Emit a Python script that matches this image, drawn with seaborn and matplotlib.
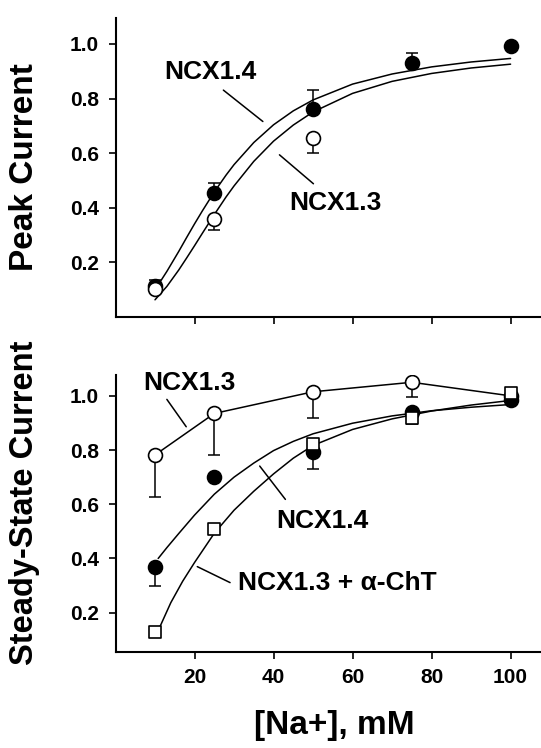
import numpy as np
import seaborn as sns
from matplotlib import pyplot as plt

# Na+ concentrations (mM)
conc = [10, 25, 50, 75, 100]

# Peak current (top panel)
peak_14 = [0.115, 0.454, 0.762, 0.929, 0.992]
peak_14_err = [0.022, 0.036, 0.069, 0.037, 0.0]
peak_13_conc = [10, 25, 50]
peak_13 = [0.104, 0.36, 0.655]
peak_13_err = [0.0, 0.04, 0.053]

# fitted curves
fit14_x = [11, 13, 16, 18, 20, 22, 25, 28, 30, 35, 40, 45, 50, 60, 70, 80, 90, 100]
fit14_y = [0.122, 0.167, 0.240, 0.291, 0.341, 0.389, 0.458, 0.520, 0.558, 0.639,
           0.704, 0.755, 0.795, 0.853, 0.890, 0.916, 0.934, 0.947]
fit13_x = [10, 13, 16, 18, 20, 22, 25, 28, 30, 35, 40, 45, 50, 60, 70, 80, 90, 100]
fit13_y = [0.063, 0.112, 0.172, 0.216, 0.261, 0.307, 0.375, 0.440, 0.480, 0.570,
           0.644, 0.703, 0.751, 0.819, 0.863, 0.892, 0.912, 0.926]

# Steady-state current (bottom panel)
ss_13 = [0.782, 0.935, 1.015, 1.05, 1.0]
ss_13_err = [0.154, 0.154, 0.098, 0.053, 0.0]
ss_14 = [0.37, 0.702, 0.794, 0.94, 0.985]
ss_14_err = [0.07, 0.0, 0.065, 0.0, 0.0]
ss_cht = [0.13, 0.509, 0.822, 0.92, 1.012]
ss_cht_err = [0.0, 0.0, 0.0, 0.025, 0.0]

# fitted curves
ssfit14_x = [10.8, 13, 16, 20, 25, 30, 35, 40, 45, 50, 60, 70, 80, 90, 100]
ssfit14_y = [0.40, 0.44, 0.492, 0.56, 0.637, 0.70, 0.752, 0.798, 0.832, 0.86,
             0.899, 0.926, 0.945, 0.958, 0.968]
ssfitcht_x = [11.3, 14, 17, 20, 25, 30, 35, 40, 45, 50, 60, 70, 80, 90, 100]
ssfitcht_y = [0.15, 0.237, 0.316, 0.385, 0.493, 0.578, 0.648, 0.712, 0.77, 0.817,
              0.876, 0.915, 0.944, 0.966, 0.983]

x_ticks = [20, 40, 60, 80, 100]
y_ticks = [0.2, 0.4, 0.6, 0.8, 1.0]

sns.set_style("ticks")
plt.rcParams['font.family'] = ['Liberation Sans', 'DejaVu Sans']
plt.rcParams['font.weight'] = 'bold'
plt.rcParams['axes.labelweight'] = 'bold'
for key in ('text.color', 'axes.labelcolor', 'xtick.color', 'ytick.color', 'axes.edgecolor'):
    plt.rcParams[key] = 'black'

fig = plt.figure(figsize=(5.41, 7.48), dpi=100)
ax1 = fig.add_axes([0.2135, 0.5762, 0.7865, 0.3997])
ax2 = fig.add_axes([0.2135, 0.1287, 0.7865, 0.370])

line_kw = dict(color='black', linewidth=1.1, estimator=None, sort=False)
err_kw = dict(fmt='none', ecolor='black', elinewidth=1.1, capsize=4.5, capthick=1.1)


def points(ax, x, y, face, marker='o', size=100, z=4):
    sns.scatterplot(x=x, y=y, ax=ax, marker=marker, s=size, color=face,
                    edgecolor='black', linewidth=1.2, zorder=z, legend=False)


# top panel
sns.lineplot(x=fit14_x, y=fit14_y, ax=ax1, **line_kw)
sns.lineplot(x=fit13_x, y=fit13_y, ax=ax1, **line_kw)
ax1.errorbar(conc, peak_14, yerr=[np.zeros(5), peak_14_err], zorder=3, **err_kw)
ax1.errorbar(peak_13_conc, peak_13, yerr=[peak_13_err, np.zeros(3)], zorder=3, **err_kw)
points(ax1, conc, peak_14, 'black', z=4)
points(ax1, peak_13_conc, peak_13, 'white', z=5)

ax1.text(24.1, 0.897, 'NCX1.4', ha='center', va='center', fontsize=19)
ax1.plot([27.3, 37.3], [0.831, 0.716], color='black', lw=1.1)
ax1.text(55.7, 0.418, 'NCX1.3', ha='center', va='center', fontsize=19)
ax1.plot([41.5, 50.1], [0.594, 0.488], color='black', lw=1.1)

ax1.set_ylabel('Peak Current', fontsize=24, va='center')
ax1.yaxis.set_label_coords(-0.215, 0.5)
ax1.set_ylim(0, 1.095)
ax1.tick_params(labelbottom=False)

# bottom panel
sns.lineplot(x=conc, y=ss_13, ax=ax2, **line_kw)
sns.lineplot(x=ssfit14_x, y=ssfit14_y, ax=ax2, **line_kw)
sns.lineplot(x=ssfitcht_x, y=ssfitcht_y, ax=ax2, **line_kw)
ax2.errorbar(conc, ss_13, yerr=[ss_13_err, np.zeros(5)], zorder=3, **err_kw)
ax2.errorbar(conc, ss_14, yerr=[ss_14_err, np.zeros(5)], zorder=3, **err_kw)
ax2.errorbar(conc, ss_cht, yerr=[ss_cht_err, np.zeros(5)], zorder=3, **err_kw)
points(ax2, conc, ss_13, 'white', z=4)
points(ax2, conc, ss_14, 'black', z=5)
points(ax2, conc, ss_cht, 'white', marker='s', size=85, z=6)

ax2.text(18.7, 1.046, 'NCX1.3', ha='center', va='center', fontsize=19)
ax2.plot([13.0, 17.9], [0.987, 0.886], color='black', lw=1.1)
ax2.text(52.3, 0.539, 'NCX1.4', ha='center', va='center', fontsize=19)
ax2.plot([36.5, 43.0], [0.741, 0.618], color='black', lw=1.1)
ax2.text(56.1, 0.308, 'NCX1.3 + α-ChT', ha='center', va='center', fontsize=19)
ax2.plot([20.7, 29.0], [0.37, 0.311], color='black', lw=1.1)

ax2.set_ylabel('Steady-State Current', fontsize=23.5, va='center')
ax2.yaxis.set_label_coords(-0.215, 0.537)
ax2.set_xlabel('[Na+], mM', fontsize=24, va='center')
ax2.xaxis.set_label_coords(0.515, -0.267)
ax2.set_ylim(0.056, 1.077)

for ax in (ax1, ax2):
    ax.set_xlim(0, 107.7)
    ax.set_xticks(x_ticks)
    ax.set_yticks(y_ticks)
    ax.set_yticklabels([f"{v:.1f}" for v in y_ticks])
    sns.despine(ax=ax)
    for side in ('left', 'bottom'):
        ax.spines[side].set_linewidth(1.5)
    ax.tick_params(direction='out', length=5, width=1.2, labelsize=15, pad=7)

fig.savefig('out.png', dpi=100)
